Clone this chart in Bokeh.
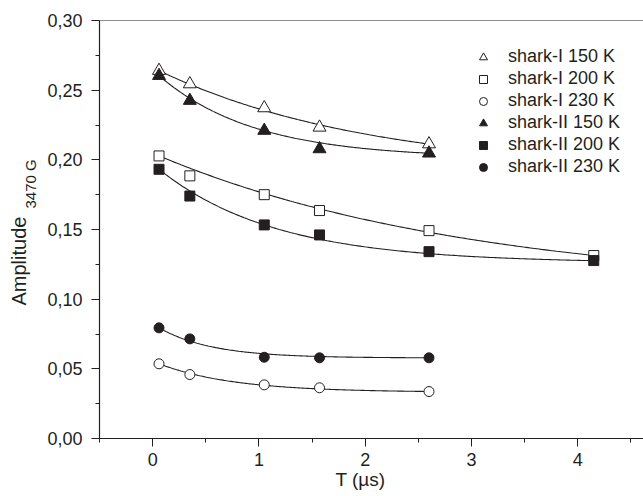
import numpy as np
from bokeh.plotting import figure
from bokeh.models import (FixedTicker, Range1d, Legend, LegendItem, Span, Title,
                          CustomJSTickFormatter)
from bokeh.embed import file_html
from bokeh.resources import INLINE

# ---------------- data ----------------
T_VALUES = [0.06, 0.35, 1.05, 1.57, 2.6]
T_VALUES_200 = [0.06, 0.35, 1.05, 1.57, 2.6, 4.15]

shark1_150 = [0.264, 0.2544, 0.2372, 0.2233, 0.2113]
shark1_200 = [0.2028, 0.1885, 0.1750, 0.1636, 0.1492, 0.1313]
shark1_230 = [0.0536, 0.0459, 0.0385, 0.0364, 0.0337]
shark2_150 = [0.2604, 0.2425, 0.2210, 0.2078, 0.2047]
shark2_200 = [0.1932, 0.1740, 0.1533, 0.1461, 0.1341, 0.1277]
shark2_230 = [0.0794, 0.0715, 0.0583, 0.0579, 0.0579]

LABELS = ["shark-I 150 K", "shark-I 200 K", "shark-I 230 K",
          "shark-II 150 K", "shark-II 200 K", "shark-II 230 K"]

# exponential fit parameters (y0 + A*exp(-T/tau))
FIT_Y0 = [0.1907, 0.1068, 0.0332, 0.2012, 0.1260, 0.0578]
FIT_A = [0.0756, 0.0980, 0.0223, 0.0633, 0.0710, 0.0244]
FIT_TAU = [2.0, 3.0, 0.7, 0.9, 1.1, 0.5]

Y_TICKS = [0.0, 0.05, 0.10, 0.15, 0.20, 0.25, 0.30]
X_TICKS = [0, 1, 2, 3, 4]

FONT = "Liberation Sans"
TXT = "#231f20"

p = figure(width=643, height=496, output_backend="svg", toolbar_location=None,
           x_range=Range1d(-0.5, 4.618), y_range=Range1d(0.0, 0.30),
           min_border_left=99, min_border_right=0, min_border_top=20,
           min_border_bottom=58,
           background_fill_color="white", border_fill_color="white")
p.outline_line_color = None
p.grid.visible = False

for ax in (p.xaxis[0], p.yaxis[0]):
    ax.axis_line_color = TXT
    ax.axis_line_width = 1.2
    ax.major_tick_line_color = TXT
    ax.minor_tick_line_color = TXT
    ax.major_tick_out = 8
    ax.major_tick_in = 0
    ax.minor_tick_out = 4
    ax.minor_tick_in = 0
    ax.major_label_text_font = FONT
    ax.major_label_text_font_size = "18px"
    ax.major_label_text_color = TXT
p.yaxis.major_label_standoff = 9
p.xaxis.major_label_standoff = 6

p.xaxis.ticker = FixedTicker(ticks=X_TICKS, minor_ticks=[-0.5, 0.5, 1.5, 2.5, 3.5, 4.5])
p.yaxis.ticker = FixedTicker(ticks=Y_TICKS,
                             minor_ticks=[0.025, 0.075, 0.125, 0.175, 0.225, 0.275])
p.yaxis.formatter = CustomJSTickFormatter(code="return tick.toFixed(2).replace('.', ',');")

# y title: "Amplitude" with subscript "3470 G" (stacked side-panel titles)
p.add_layout(Title(text="3470 G", align="left", offset=230, standoff=8,
                   vertical_align="top", text_font=FONT, text_font_size="15px",
                   text_font_style="normal", text_color=TXT), "left")
p.add_layout(Title(text="Amplitude", align="left", offset=133, standoff=-24,
                   vertical_align="bottom", text_font=FONT, text_font_size="20px",
                   text_font_style="normal", text_color=TXT), "left")

# x title placed under the axis
p.add_layout(Title(text="T (µs)", align="left", offset=236, standoff=0,
                   vertical_align="top", text_font=FONT, text_font_size="19px",
                   text_font_style="normal", text_color=TXT), "below")

# top frame line
p.add_layout(Span(location=0.30, dimension="width", line_color=TXT, line_width=1.2))

xs_list = [T_VALUES, T_VALUES_200, T_VALUES, T_VALUES, T_VALUES_200, T_VALUES]
ys_list = [shark1_150, shark1_200, shark1_230, shark2_150, shark2_200, shark2_230]
markers = ["triangle", "square", "circle", "triangle", "square", "circle"]
sizes = [13, 10, 10, 13, 10, 10]
fills = ["white", "white", "white", TXT, TXT, TXT]

for i in range(6):
    xs = xs_list[i]
    t = np.linspace(xs[0], xs[-1], 200)
    p.line(t, FIT_Y0[i] + FIT_A[i] * np.exp(-t / FIT_TAU[i]), line_color=TXT, line_width=1.1)

items = []
for i in range(6):
    r = p.scatter(xs_list[i], ys_list[i], marker=markers[i], size=sizes[i],
                  fill_color=fills[i], line_color=TXT, line_width=1)
    items.append(LegendItem(label=LABELS[i], renderers=[r]))

legend = Legend(items=items, location=(374, 261), padding=0, spacing=1,
                glyph_width=20, glyph_height=20, label_height=20, label_standoff=15,
                label_text_font=FONT, label_text_font_size="18px", label_text_color=TXT,
                border_line_color=None, background_fill_alpha=0)
p.add_layout(legend, "center")

open("out.html", "w").write(file_html(p, INLINE))
